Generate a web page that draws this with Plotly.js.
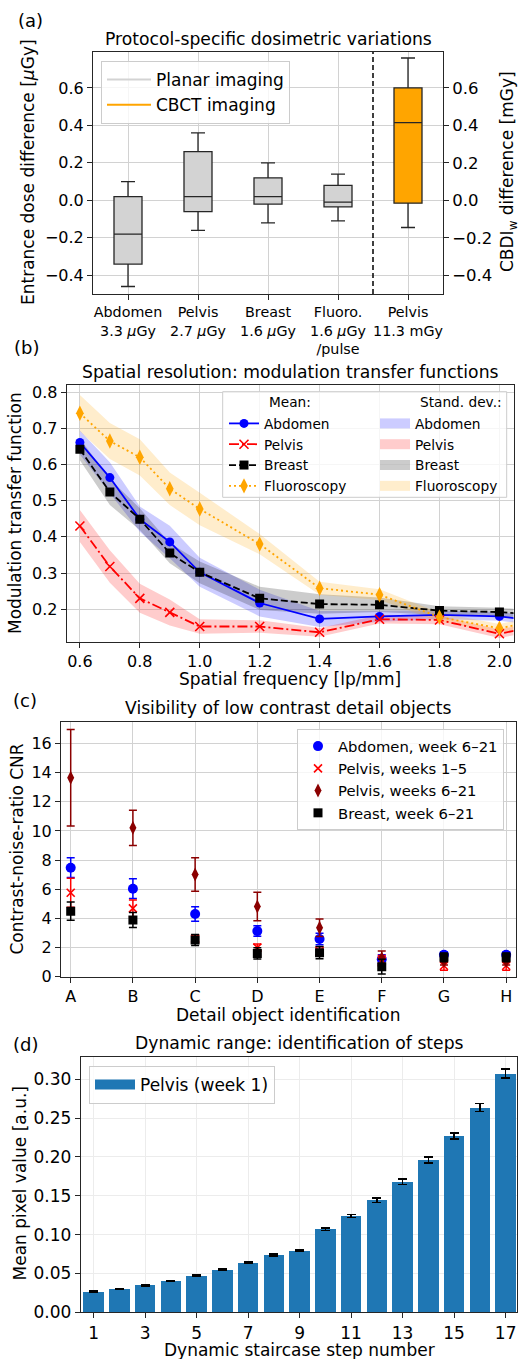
<!DOCTYPE html>
<html><head><meta charset="utf-8">
<script src="https://cdn.plot.ly/plotly-3.0.1.min.js"></script>
<style>html,body{margin:0;padding:0;background:#fff}#chart{width:520px;height:1359px}</style>
</head><body><div id="chart"></div>
<script>
// ---------- Panel (a): protocol-specific dosimetric variations ----------
const planarLabels = ['Abdomen<br>3.3 <i>μ</i>Gy', 'Pelvis<br>2.7 <i>μ</i>Gy', 'Breast<br>1.6 <i>μ</i>Gy', 'Fluoro.<br>1.6 <i>μ</i>Gy<br>/pulse'];
const planarLowerFence = [-0.46, -0.16, -0.12, -0.11];
const planarQ1 = [-0.34, -0.06, -0.02, -0.035];
const planarMedian = [-0.18, 0.02, 0.02, -0.01];
const planarQ3 = [0.02, 0.26, 0.12, 0.08];
const planarUpperFence = [0.10, 0.36, 0.20, 0.14];
const cbctLabels = ['Pelvis<br>11.3 mGy'];
const cbctLowerFence = [-0.145];
const cbctQ1 = [-0.015];
const cbctMedian = [0.415];
const cbctQ3 = [0.60];
const cbctUpperFence = [0.76];
const doseTicks = [-0.4, -0.2, 0.0, 0.2, 0.4, 0.6];

// ---------- Panel (b): modulation transfer functions ----------
const mtfFreq = [0.6, 0.7, 0.8, 0.9, 1.0, 1.2, 1.4, 1.6, 1.8, 2.0, 2.2];
const mtfAbdomen = [0.661, 0.564, 0.449, 0.386, 0.302, 0.217, 0.173, 0.180, 0.184, 0.180, 0.160];
const mtfPelvis = [0.430, 0.318, 0.230, 0.191, 0.152, 0.152, 0.136, 0.172, 0.170, 0.132, 0.165];
const mtfBreast = [0.642, 0.524, 0.449, 0.355, 0.302, 0.230, 0.214, 0.212, 0.196, 0.192, 0.180];
const mtfFluoro = [0.742, 0.665, 0.620, 0.533, 0.477, 0.380, 0.258, 0.240, 0.178, 0.147, 0.180];
const sdAbdomen = [0.033, 0.042, 0.035, 0.045, 0.040, 0.037, 0.022, 0.015, 0.012, 0.012, 0.012];
const sdPelvis = [0.044, 0.045, 0.040, 0.036, 0.020, 0.017, 0.012, 0.012, 0.012, 0.012, 0.012];
const sdBreast = [0.030, 0.036, 0.030, 0.028, 0.030, 0.032, 0.027, 0.020, 0.012, 0.012, 0.012];
const sdFluoro = [0.050, 0.050, 0.050, 0.045, 0.045, 0.028, 0.018, 0.015, 0.012, 0.012, 0.012];
const freqTicks = [0.6, 0.8, 1.0, 1.2, 1.4, 1.6, 1.8, 2.0];
const mtfTicks = [0.2, 0.3, 0.4, 0.5, 0.6, 0.7, 0.8];

// ---------- Panel (c): low contrast detail objects ----------
const detailObjects = ['A', 'B', 'C', 'D', 'E', 'F', 'G', 'H'];
const cnrAbdomen = [7.48, 6.04, 4.30, 3.13, 2.59, 1.20, 1.50, 1.50];
const cnrAbdomenErr = [0.68, 0.68, 0.50, 0.36, 0.40, 0.30, 0.20, 0.20];
const cnrPelvisEarly = [5.76, 4.69, 2.62, 2.00, 1.75, 1.10, 0.75, 0.75];
const cnrPelvisEarlyErr = [1.00, 0.57, 0.25, 0.25, 0.30, 0.35, 0.30, 0.30];
const cnrPelvisLate = [13.65, 10.22, 7.02, 4.82, 3.36, 1.26, 1.10, 1.10];
const cnrPelvisLateErr = [3.31, 1.21, 1.15, 0.98, 0.60, 0.50, 0.30, 0.30];
const cnrBreast = [4.50, 3.89, 2.52, 1.60, 1.65, 0.69, 1.33, 1.33];
const cnrBreastErr = [0.62, 0.52, 0.38, 0.38, 0.42, 0.50, 0.30, 0.30];
const cnrTicks = [0, 2, 4, 6, 8, 10, 12, 14, 16];

// ---------- Panel (d): dynamic range ----------
const stepNumbers = [1, 2, 3, 4, 5, 6, 7, 8, 9, 10, 11, 12, 13, 14, 15, 16, 17];
const stepMeans = [0.0266, 0.0300, 0.0347, 0.0403, 0.0471, 0.0549, 0.0639, 0.0741, 0.0793, 0.1067, 0.1238, 0.1444, 0.1680, 0.1958, 0.2267, 0.2636, 0.3073];
const stepErr = [0.0007, 0.0007, 0.0008, 0.0008, 0.0010, 0.0012, 0.0012, 0.0013, 0.0008, 0.0015, 0.0020, 0.0030, 0.0034, 0.0040, 0.0040, 0.0050, 0.0056];
const stepTicks = [1, 3, 5, 7, 9, 11, 13, 15, 17];
const pixelTicks = [0.00, 0.05, 0.10, 0.15, 0.20, 0.25, 0.30];

// ---------- helpers ----------
const W = 520, H = 1359;
const FONT = 'DejaVu Sans, Verdana, sans-serif';
const px = v => v / W;
const py = v => 1 - v / H;
const add = (a, b, s) => a.map((v, i) => v + s * b[i]);

const axisBase = {
  showline: true, mirror: true, linecolor: '#262626', linewidth: 1,
  ticks: 'outside', ticklen: 5, tickwidth: 1, tickcolor: '#262626',
  showgrid: true, gridcolor: '#d2d2d2', gridwidth: 1, zeroline: false,
  tickfont: {family: FONT, size: 16, color: '#000'}
};
const ax = o => Object.assign({}, axisBase, o);

const traces = [];

// Panel (a) boxes
traces.push({
  type: 'box', x: planarLabels, q1: planarQ1, median: planarMedian, q3: planarQ3,
  lowerfence: planarLowerFence, upperfence: planarUpperFence,
  fillcolor: '#d3d3d3', line: {color: '#262626', width: 1.3},
  width: 0.4, whiskerwidth: 0.5, boxpoints: false, showlegend: false,
  xaxis: 'x', yaxis: 'y', name: 'Planar imaging'
});
traces.push({
  type: 'box', x: cbctLabels, q1: cbctQ1, median: cbctMedian, q3: cbctQ3,
  lowerfence: cbctLowerFence, upperfence: cbctUpperFence,
  fillcolor: '#ffa500', line: {color: '#262626', width: 1.3},
  width: 0.4, whiskerwidth: 0.5, boxpoints: false, showlegend: false,
  xaxis: 'x', yaxis: 'y2', name: 'CBCT imaging'
});
traces.push({type: 'scatter', mode: 'lines', x: [null], y: [null], xaxis: 'x', yaxis: 'y',
  name: 'Planar imaging', line: {color: '#d3d3d3', width: 2}, legend: 'legend3'});
traces.push({type: 'scatter', mode: 'lines', x: [null], y: [null], xaxis: 'x', yaxis: 'y',
  name: 'CBCT imaging', line: {color: '#ffa500', width: 2}, legend: 'legend3'});

// Panel (b) bands
const mtfSeries = [
  {name: 'Abdomen', mean: mtfAbdomen, sd: sdAbdomen, color: '#0000ff', band: 'rgba(0,0,255,0.2)',
   dash: 'solid', symbol: 'circle', size: 9},
  {name: 'Pelvis', mean: mtfPelvis, sd: sdPelvis, color: '#ff0000', band: 'rgba(255,0,0,0.2)',
   dash: '10px,3px,2px,3px', symbol: 'x-thin', size: 9},
  {name: 'Breast', mean: mtfBreast, sd: sdBreast, color: '#000000', band: 'rgba(0,0,0,0.2)',
   dash: '7px,3px', symbol: 'square', size: 9},
  {name: 'Fluoroscopy', mean: mtfFluoro, sd: sdFluoro, color: '#ffa500', band: 'rgba(255,165,0,0.2)',
   dash: '2px,3px', symbol: 'diamond-tall', size: 11}
];
mtfSeries.forEach(s => {
  traces.push({type: 'scatter', mode: 'lines', x: mtfFreq, y: add(s.mean, s.sd, -1),
    line: {width: 0, color: s.band}, showlegend: false, hoverinfo: 'skip', xaxis: 'x2', yaxis: 'y3'});
  traces.push({type: 'scatter', mode: 'lines', x: mtfFreq, y: add(s.mean, s.sd, 1),
    line: {width: 0, color: s.band}, fill: 'tonexty', fillcolor: s.band,
    showlegend: false, hoverinfo: 'skip', xaxis: 'x2', yaxis: 'y3'});
});
mtfSeries.forEach(s => {
  traces.push({type: 'scatter', mode: 'lines+markers', x: mtfFreq, y: s.mean, name: s.name,
    line: {color: s.color, width: 1.8, dash: s.dash},
    marker: {symbol: s.symbol, size: s.size, color: s.color, line: {color: s.color, width: s.symbol === 'x-thin' ? 1.6 : 0}},
    xaxis: 'x2', yaxis: 'y3', legend: 'legend'});
});
mtfSeries.forEach(s => {
  traces.push({type: 'scatter', mode: 'lines', x: [null], y: [null], name: s.name,
    line: {color: s.band, width: 13}, xaxis: 'x2', yaxis: 'y3', legend: 'legend2'});
});

// Panel (c)
const cnrSeries = [
  {name: 'Abdomen, week 6–21', y: cnrAbdomen, e: cnrAbdomenErr, color: '#0000ff', symbol: 'circle', size: 10},
  {name: 'Pelvis, weeks 1–5', y: cnrPelvisEarly, e: cnrPelvisEarlyErr, color: '#ff0000', symbol: 'x-thin', size: 8},
  {name: 'Pelvis, weeks 6–21', y: cnrPelvisLate, e: cnrPelvisLateErr, color: '#8b0000', symbol: 'diamond-tall', size: 10},
  {name: 'Breast, week 6–21', y: cnrBreast, e: cnrBreastErr, color: '#000000', symbol: 'square', size: 9}
];
cnrSeries.forEach(s => {
  traces.push({type: 'scatter', mode: 'markers', x: detailObjects, y: s.y, name: s.name,
    marker: {symbol: s.symbol, size: s.size, color: s.color, line: {color: s.color, width: s.symbol === 'x-thin' ? 1.6 : 0}},
    error_y: {type: 'data', array: s.e, visible: true, color: s.color, thickness: 1.5, width: 4},
    xaxis: 'x3', yaxis: 'y4', legend: 'legend4'});
});

// Panel (d)
traces.push({type: 'bar', x: stepNumbers, y: stepMeans, width: 0.8, name: 'Pelvis (week 1)',
  marker: {color: '#1f77b4'},
  error_y: {type: 'data', array: stepErr, visible: true, color: '#000', thickness: 1.6, width: 4.5},
  showlegend: false, xaxis: 'x4', yaxis: 'y5'});
traces.push({type: 'scatter', mode: 'lines', x: [null], y: [null], name: 'Pelvis (week 1)',
  line: {color: '#1f77b4', width: 20}, xaxis: 'x4', yaxis: 'y5', legend: 'legend5'});

const txt = (text, x, y, size, opts) => Object.assign({
  text: text, x: px(x), y: py(y), xref: 'paper', yref: 'paper', showarrow: false,
  xanchor: 'center', yanchor: 'middle', font: {family: FONT, size: size, color: '#000'}
}, opts || {});

const layout = {
  width: W, height: H, margin: {l: 0, r: 0, t: 0, b: 0},
  paper_bgcolor: '#fff', plot_bgcolor: '#fff',
  font: {family: FONT, size: 16, color: '#000'},
  boxmode: 'overlay', bargap: 0,
  xaxis: ax({domain: [px(93), px(443)], anchor: 'y', type: 'category', range: [-0.5, 4.5],
    categoryorder: 'array', categoryarray: planarLabels.concat(cbctLabels),
    tickfont: {family: FONT, size: 14.3, color: '#000'}}),
  yaxis: ax({domain: [py(294), py(52)], anchor: 'x', range: [-0.5, 0.792],
    tickvals: doseTicks, tickformat: '.1f'}),
  yaxis2: ax({overlaying: 'y', side: 'right', anchor: 'x', range: [-0.5, 0.792],
    tickvals: doseTicks, tickformat: '.1f', showgrid: false, mirror: false,
    tickfont: {family: FONT, size: 16.5, color: '#000'}}),
  xaxis2: ax({domain: [px(66.7), px(513.5)], anchor: 'y3', range: [0.556, 2.047],
    tickvals: freqTicks, tickformat: '.1f'}),
  yaxis3: ax({domain: [py(641.7), py(385)], anchor: 'x2', range: [0.11, 0.82],
    tickvals: mtfTicks, tickformat: '.1f'}),
  xaxis3: ax({domain: [px(61), px(515.5)], anchor: 'y4', type: 'category', range: [-0.156, 7.15],
    categoryorder: 'array', categoryarray: detailObjects}),
  yaxis4: ax({domain: [py(976.7), py(721.7)], anchor: 'x3', range: [0, 17.5], tickvals: cnrTicks}),
  xaxis4: ax({domain: [px(80.7), px(516.7)], anchor: 'y5', range: [0.5, 17.43],
    tickvals: stepTicks, gridcolor: '#ececec', tickfont: {family: FONT, size: 17, color: '#000'}}),
  yaxis5: ax({domain: [py(1312.3), py(1056.7)], anchor: 'x4', range: [0, 0.329],
    tickvals: pixelTicks, tickformat: '.2f', gridcolor: '#ececec',
    tickfont: {family: FONT, size: 17, color: '#000'}}),
  legend: {x: px(224), y: py(408), xanchor: 'left', yanchor: 'top', bgcolor: 'rgba(0,0,0,0)',
    borderwidth: 0, traceorder: 'normal', font: {family: FONT, size: 13.7, color: '#000'}},
  legend2: {x: px(375), y: py(408), xanchor: 'left', yanchor: 'top', bgcolor: 'rgba(0,0,0,0)',
    borderwidth: 0, traceorder: 'normal', font: {family: FONT, size: 13.7, color: '#000'}},
  legend3: {x: px(101), y: py(61), xanchor: 'left', yanchor: 'top', bgcolor: 'rgba(255,255,255,0.8)',
    bordercolor: '#cccccc', borderwidth: 1, itemwidth: 44, traceorder: 'normal',
    font: {family: FONT, size: 17, color: '#000'}},
  legend4: {x: px(297), y: py(729), xanchor: 'left', yanchor: 'top', bgcolor: 'rgba(255,255,255,0.8)',
    bordercolor: '#cccccc', borderwidth: 1, traceorder: 'normal', font: {family: FONT, size: 14.8, color: '#000'}},
  legend5: {x: px(89), y: py(1066), xanchor: 'left', yanchor: 'top', bgcolor: 'rgba(255,255,255,0.8)',
    bordercolor: '#cccccc', borderwidth: 1, itemwidth: 40, font: {family: FONT, size: 17, color: '#000'}},
  shapes: [
    {type: 'line', xref: 'x', yref: 'y domain', x0: planarLabels.length - 0.5, x1: planarLabels.length - 0.5,
     y0: 0, y1: 1, line: {color: '#000', width: 1.5, dash: '5px,3px'}},
    {type: 'rect', xref: 'paper', yref: 'paper', x0: px(222.7), x1: px(506.7), y0: py(497.3), y1: py(391.7),
     fillcolor: 'rgba(255,255,255,0.8)', line: {color: '#cccccc', width: 1}, layer: 'above'}
  ],
  annotations: [
    txt('(a)', 30, 20, 18),
    txt('(b)', 26, 348, 18),
    txt('(c)', 25, 700, 18),
    txt('(d)', 25, 1044, 18),
    txt('Protocol-specific dosimetric variations', 268, 39, 17.2),
    txt('Spatial resolution: modulation transfer functions', 290, 372, 17.2),
    txt('Visibility of low contrast detail objects', 288, 708, 17.2),
    txt('Dynamic range: identification of steps', 299, 1043, 17.2),
    txt('Entrance dose difference [<i>μ</i>Gy]', 28, 172, 17, {textangle: -90}),
    txt('CBDI<sub>w</sub> difference [mGy]', 508, 172, 17, {textangle: -90}),
    txt('Modulation transfer function', 15, 513, 17, {textangle: -90}),
    txt('Spatial frequency [lp/mm]', 290, 679, 17),
    txt('Contrast-noise-ratio CNR', 16.5, 849, 17, {textangle: -90}),
    txt('Detail object identification', 288, 1015, 17),
    txt('Mean pixel value [a.u.]', 19.5, 1184, 17, {textangle: -90}),
    txt('Dynamic staircase step number', 299, 1350, 17),
    txt('Mean:', 266.7, 402, 13.7, {xanchor: 'left'}),
    txt('Stand. dev.:', 418.3, 402, 13.7, {xanchor: 'left'})
  ]
};

Plotly.newPlot('chart', traces, layout, {displayModeBar: false, staticPlot: true});
</script>
</body></html>
